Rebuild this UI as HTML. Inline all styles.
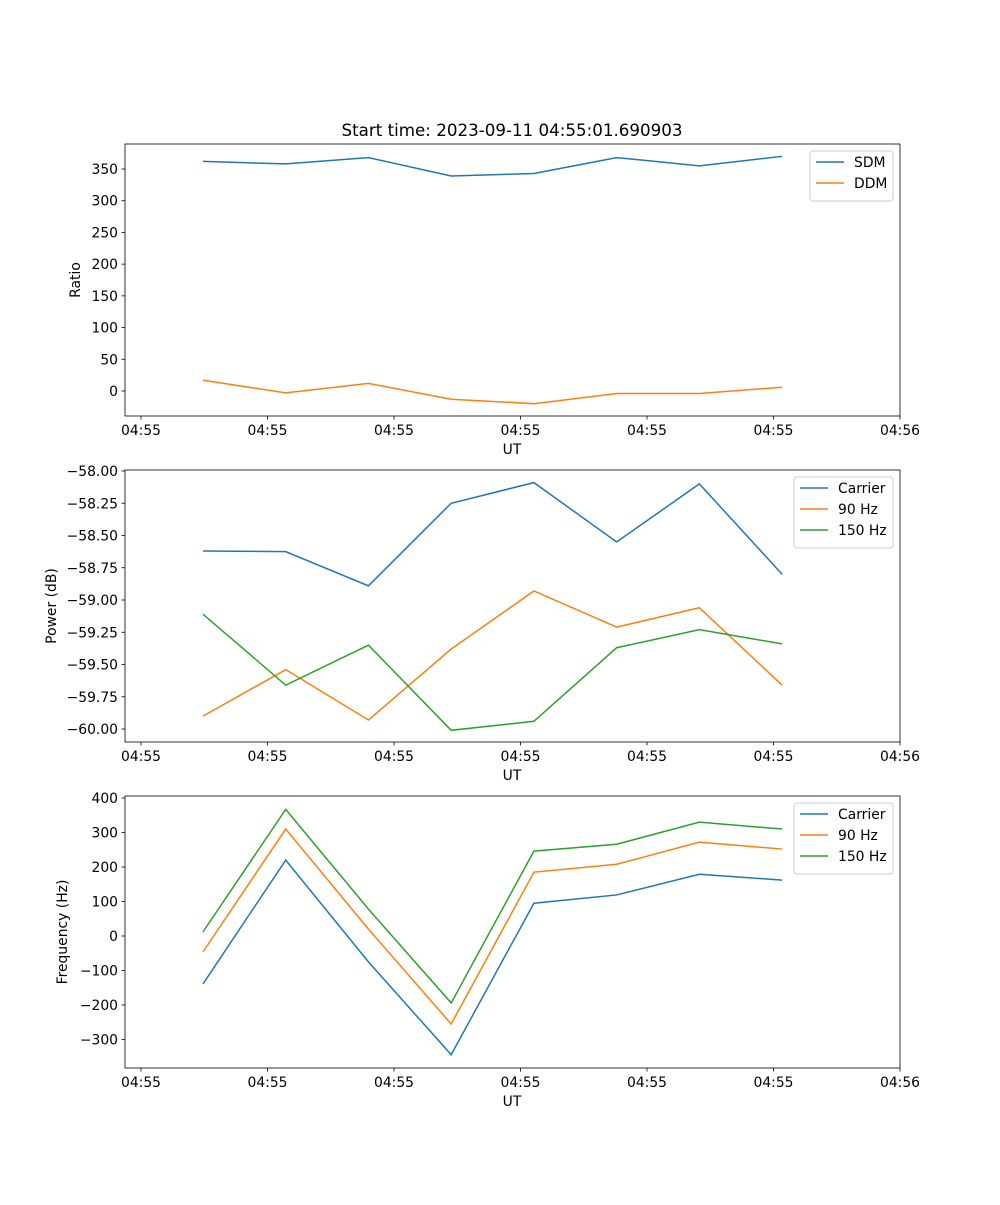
<!DOCTYPE html>
<html><head><meta charset="utf-8"><style>
body{margin:0;background:#fff}
svg text{font-family:"DejaVu Sans","Liberation Sans",sans-serif;font-size:13.9px;fill:#000}
</style></head><body>
<svg id="fig" width="1000" height="1200" xmlns="http://www.w3.org/2000/svg">
<rect width="1000" height="1200" fill="#fff"/>
<text x="512" y="136" text-anchor="middle" style="font-size:16.7px">Start time: 2023-09-11 04:55:01.690903</text>
</svg>
<script>
const times=[4.9,11.44,17.98,24.52,31.06,37.6,44.14,50.68];
const xTicks=[0,10,20,30,40,50,60];
const xTickLabels=["04:55","04:55","04:55","04:55","04:55","04:55","04:56"];
const sdm=[362,358,368,339,343,368,355,370];
const ddm=[17,-3,12,-13,-20,-4,-4,6];
const pwrCarrier=[-58.62,-58.625,-58.89,-58.25,-58.09,-58.55,-58.10,-58.80];
const pwr90=[-59.90,-59.54,-59.93,-59.38,-58.93,-59.21,-59.06,-59.66];
const pwr150=[-59.11,-59.66,-59.35,-60.01,-59.94,-59.37,-59.23,-59.34];
const frqCarrier=[-139,220,-75,-344,95,119,179,162];
const frq90=[-46,310,20,-255,185,208,272,252];
const frq150=[12,367,78,-194,246,266,330,310];
const ticks1=[0,50,100,150,200,250,300,350];
const ticks2=[-60,-59.75,-59.5,-59.25,-59,-58.75,-58.5,-58.25,-58];
const ticks3=[-300,-200,-100,0,100,200,300,400];
const C=["#1f77b4","#ff7f0e","#2ca02c"];
const svg=document.getElementById('fig');const NS="http://www.w3.org/2000/svg";
function el(t,a,p){const e=document.createElementNS(NS,t);for(const k in a)e.setAttribute(k,a[k]);(p||svg).appendChild(e);return e;}
const L=125,R=900;
function xs(t){return 141+(t)*12.65;}
function panel(name,top,bot,yA,yB,pA,pB,ticks,fmt,ylabel,ylx,series,names,legX,legW){
  const g=el('g',{});
  const ys=v=>pA+(v-yA)*(pB-pA)/(yB-yA);
  series.forEach((s,i)=>{const p=el('polyline',{points:s.map((v,j)=>xs(times[j])+','+ys(v)).join(' '),fill:'none',stroke:C[i],'stroke-width':1.5},g);
    });
  const fr=el('rect',{x:L,y:top,width:R-L,height:bot-top,fill:'none',stroke:'#000','stroke-width':0.8},g);
  
  xTicks.forEach((t,i)=>{const x=xs(t);el('line',{x1:x,x2:x,y1:bot,y2:bot+3.5,stroke:'#000','stroke-width':0.8},g);
    const tx=el('text',{x:x,y:bot+19,'text-anchor':'middle'},g);tx.textContent=xTickLabels[i];
    });
  ticks.forEach(v=>{const y=ys(v);el('line',{x1:L-3.5,x2:L,y1:y,y2:y,stroke:'#000','stroke-width':0.8},g);
    const tx=el('text',{x:L-7,y:y+5,'text-anchor':'end'},g);tx.textContent=fmt(v);
    });
  const xl=el('text',{x:512,y:bot+38,'text-anchor':'middle'},g);xl.textContent='UT';
  
  const yl=el('text',{x:ylx,y:(top+bot)/2,'text-anchor':'middle',transform:`rotate(-90 ${ylx} ${(top+bot)/2})`},g);yl.textContent=ylabel;
  
  const lg=el('g',{},g);
  el('rect',{x:legX,y:top+7,width:legW,height:8+21*names.length,rx:3,fill:'#fff',stroke:'#ccc','stroke-width':1},lg);
  names.forEach((n,i)=>{const y=top+18+21*i;el('line',{x1:legX+6,x2:legX+34,y1:y,y2:y,stroke:C[i],'stroke-width':1.5},lg);
    const t=el('text',{x:legX+44,y:y+5},lg);t.textContent=n;});
}
const neg=s=>s.replace('-','\u2212');
panel('ratio',144,416,0,350,391,169,ticks1,v=>neg(String(v)),'Ratio',80,[sdm,ddm],['SDM','DDM'],810,83);
panel('power',470,742,-58,-60,471,729,ticks2,v=>neg(v.toFixed(2)),'Power (dB)',56,[pwrCarrier,pwr90,pwr150],['Carrier','90 Hz','150 Hz'],794,99);
panel('frequency',796,1068,0,400,936,798,ticks3,v=>neg(String(v)),'Frequency (Hz)',67,[frqCarrier,frq90,frq150],['Carrier','90 Hz','150 Hz'],794,99);
</script>
</body></html>
